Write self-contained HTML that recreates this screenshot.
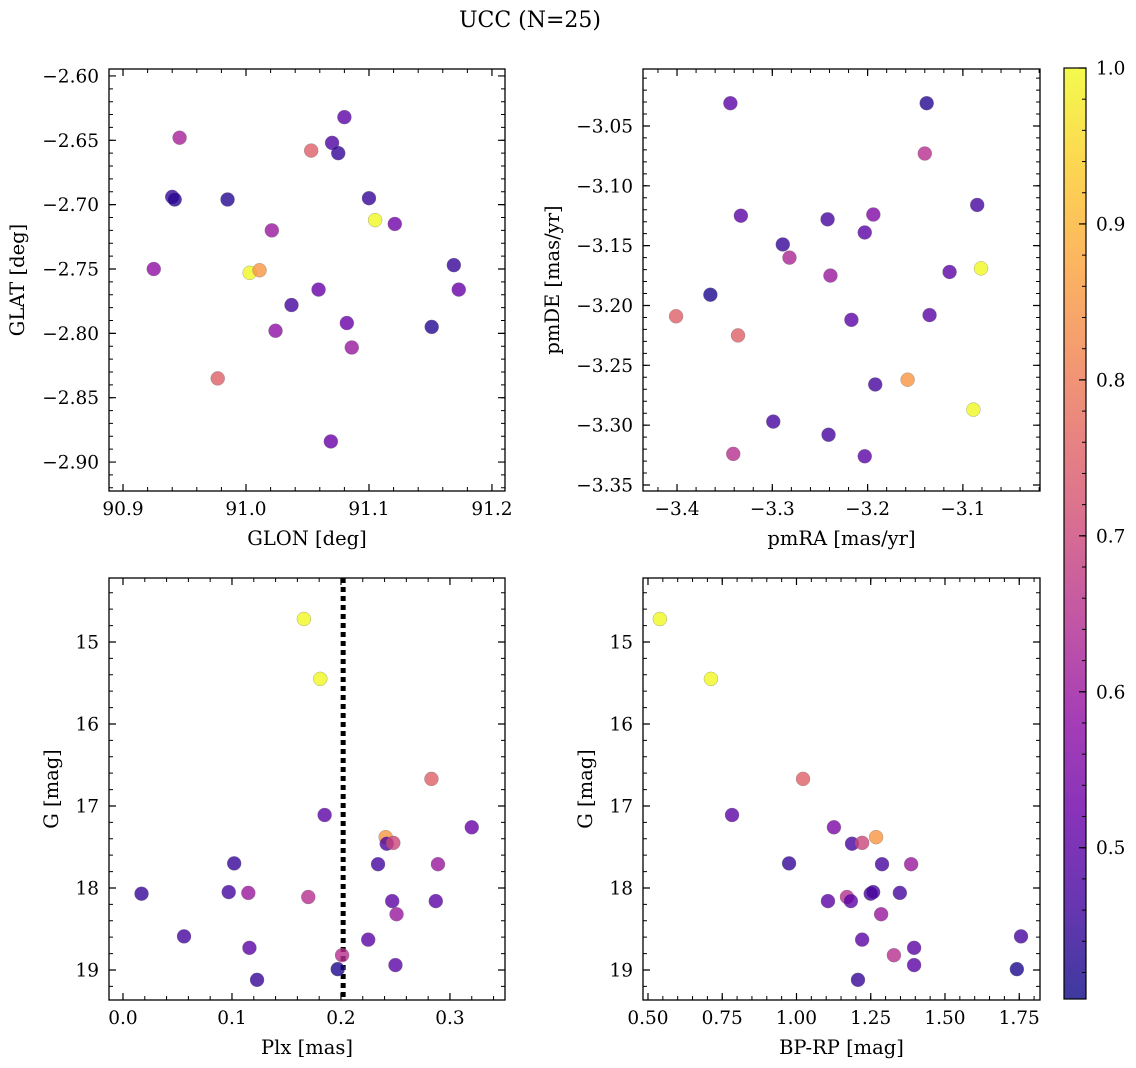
<!DOCTYPE html>
<html><head><meta charset="utf-8"><style>
html,body{margin:0;padding:0;background:#fff;}
svg{display:block;font-family:"DejaVu Serif","Liberation Serif",serif;}
</style></head><body>
<svg id="fig" width="1136" height="1068" viewBox="0 0 1136 1068">
<defs><linearGradient id="cbg" x1="0" y1="1" x2="0" y2="0"></linearGradient></defs>
<text x="530" y="27" font-size="22" text-anchor="middle">UCC (N=25)</text>
</svg>
<script>
// Panel 1: GLON vs GLAT
const glon = [90.946,90.940,90.942,90.985,90.925,91.003,91.011,91.021,91.024,90.977,91.037,91.053,91.070,91.075,91.080,91.059,91.082,91.086,91.069,91.100,91.105,91.121,91.151,91.169,91.173];
const glat = [-2.648,-2.694,-2.696,-2.696,-2.750,-2.753,-2.751,-2.720,-2.798,-2.835,-2.778,-2.658,-2.652,-2.660,-2.632,-2.766,-2.792,-2.811,-2.884,-2.695,-2.712,-2.715,-2.795,-2.747,-2.766];
const prob1 = [0.62,0.45,0.43,0.43,0.58,1.0,0.85,0.6,0.58,0.75,0.47,0.75,0.48,0.45,0.5,0.52,0.52,0.6,0.52,0.45,1.0,0.53,0.43,0.45,0.52];
// Panel 2: pmRA vs pmDE
const pmra = [-3.344,-3.138,-3.140,-3.085,-3.333,-3.242,-3.194,-3.203,-3.289,-3.282,-3.239,-3.114,-3.081,-3.365,-3.401,-3.217,-3.135,-3.336,-3.158,-3.192,-3.089,-3.299,-3.241,-3.341,-3.203];
const pmde = [-3.031,-3.031,-3.073,-3.116,-3.125,-3.128,-3.124,-3.139,-3.149,-3.160,-3.175,-3.172,-3.169,-3.191,-3.209,-3.212,-3.208,-3.225,-3.262,-3.266,-3.287,-3.297,-3.308,-3.324,-3.326];
const prob2 = [0.5,0.43,0.65,0.47,0.5,0.47,0.56,0.5,0.45,0.63,0.6,0.5,1.0,0.42,0.75,0.5,0.5,0.75,0.85,0.47,1.0,0.47,0.47,0.65,0.5];
// Panel 3 & 4: Plx, BP-RP vs G
const gmag = [14.72,15.45,16.67,17.11,17.26,17.38,17.46,17.45,17.70,17.71,17.71,18.07,18.05,18.06,18.11,18.16,18.16,18.32,18.59,18.63,18.73,18.82,18.94,18.99,19.12];
const plx = [0.166,0.181,0.283,0.185,0.320,0.241,0.242,0.248,0.102,0.234,0.289,0.017,0.097,0.115,0.170,0.247,0.287,0.251,0.056,0.225,0.116,0.201,0.250,0.197,0.123];
const prob3 = [1.0,1.0,0.75,0.5,0.52,0.85,0.48,0.7,0.45,0.47,0.6,0.45,0.47,0.6,0.65,0.5,0.5,0.6,0.47,0.5,0.5,0.65,0.5,0.42,0.45];
const bprp = [0.540,0.712,1.022,0.783,1.126,1.268,1.187,1.221,0.975,1.288,1.386,1.250,1.258,1.348,1.170,1.106,1.183,1.285,1.756,1.221,1.396,1.328,1.396,1.742,1.207];
const prob4 = [1.0,1.0,0.75,0.5,0.55,0.85,0.47,0.7,0.45,0.47,0.6,0.47,0.47,0.47,0.65,0.5,0.5,0.6,0.47,0.5,0.5,0.65,0.5,0.42,0.45];
const plxCut = [0.202];
const cbMin = 0.403, cbMax = 1.0;
const cbTicks = [0.5,0.6,0.7,0.8,0.9,1.0];

const NS="http://www.w3.org/2000/svg";
const svg=document.getElementById('fig');
const plasma=[[13,8,135],[65,4,157],[106,0,168],[143,13,164],[177,42,144],[204,71,120],[225,100,98],[242,132,75],[252,166,54],[252,206,37],[240,249,33]];
function cmap(p){let t=(p-cbMin)/(cbMax-cbMin);t=Math.max(0,Math.min(1,t));const f=t*10,i=Math.min(9,Math.floor(f)),r=f-i;const a=plasma[i],b=plasma[i+1];
return `rgb(${Math.round(a[0]+(b[0]-a[0])*r)},${Math.round(a[1]+(b[1]-a[1])*r)},${Math.round(a[2]+(b[2]-a[2])*r)})`;}
function mk(tag,attrs,parent){const e=document.createElementNS(NS,tag);for(const k in attrs)e.setAttribute(k,attrs[k]);(parent||svg).appendChild(e);return e;}

function panel(cfg){
  const g=mk('g',{});
  
  
  const {x0,x1,y0,y1}=cfg.box;
  const sx=v=>x0+(v-cfg.xd[0])/(cfg.xd[1]-cfg.xd[0])*(x1-x0);
  const sy=v=>cfg.yinv? y0+(v-cfg.yd[0])/(cfg.yd[1]-cfg.yd[0])*(y1-y0) : y1-(v-cfg.yd[0])/(cfg.yd[1]-cfg.yd[0])*(y1-y0);
  const eps=1e-9;
  function ticksFor(d,step){const out=[];let s=Math.ceil((Math.min(d[0],d[1])-eps)/step);for(let v=s*step;v<=Math.max(d[0],d[1])+eps;v+=step)out.push(+v.toFixed(6));return out;}
  const xt=ticksFor(cfg.xd,cfg.xmaj), xm=ticksFor(cfg.xd,cfg.xmin);
  const yt=ticksFor(cfg.yd,cfg.ymaj), ym=ticksFor(cfg.yd,cfg.ymin);
  xm.forEach(v=>{const x=sx(v);const l1=mk('path',{d:`M${x},${y1}v-4M${x},${y0}v4`,stroke:'#000','stroke-width':1},g);});
  ym.forEach(v=>{const y=sy(v);const l1=mk('path',{d:`M${x0},${y}h4M${x1},${y}h-4`,stroke:'#000','stroke-width':1},g);});
  xt.forEach(v=>{const x=sx(v);const l=mk('path',{d:`M${x},${y1}v-7M${x},${y0}v7`,stroke:'#000','stroke-width':1.2},g);
    const t=mk('text',{x:x,y:y1+24,'font-size':18.5,'text-anchor':'middle'},g);t.textContent=cfg.xfmt(v).replace('-','\u2212');});
  yt.forEach(v=>{const y=sy(v);const l=mk('path',{d:`M${x0},${y}h7M${x1},${y}h-7`,stroke:'#000','stroke-width':1.2},g);
    const t=mk('text',{x:x0-10,y:y+6.5,'font-size':18.5,'text-anchor':'end'},g);t.textContent=cfg.yfmt(v).replace('-','\u2212');});
  if(cfg.vline!==undefined){
    const x=sx(cfg.vline);
    const vg=mk('g',{},g);
    
    
    for(let y=y0;y<y1;y+=9){mk('rect',{x:x-2.5,y:y,width:5,height:Math.min(5,y1-y),fill:'#000'},vg);}
  }
  cfg.xs.forEach((v,i)=>{const c=mk('circle',{cx:sx(v),cy:sy(cfg.ys[i]),r:7,fill:cmap(cfg.cs[i]),'fill-opacity':0.8,stroke:'#777','stroke-width':0.5,'stroke-opacity':0.6},g);
    });
  const fr=mk('rect',{x:x0,y:y0,width:x1-x0,height:y1-y0,fill:'none',stroke:'#000','stroke-width':1.3},g);
  const xl=mk('text',{x:(x0+x1)/2,y:y1+54,'font-size':19.5,'text-anchor':'middle'},g);xl.textContent=cfg.xlabel;
  const yx=cfg.ylx, yc=(y0+y1)/2;
  const yl=mk('text',{x:yx,y:yc,'font-size':19.5,'text-anchor':'middle',transform:`rotate(-90 ${yx} ${yc})`},g);yl.textContent=cfg.ylabel;
}
const f2=v=>v.toFixed(2), f1=v=>v.toFixed(1), f0=v=>v.toFixed(0);
panel({name:'glon-glat-panel',box:{x0:109,x1:505,y0:69,y1:491},xd:[90.8886,91.2106],yd:[-2.9225,-2.5946],xmaj:0.1,xmin:0.02,ymaj:0.05,ymin:0.01,xfmt:f1,yfmt:f2,xs:glon,ys:glat,cs:prob1,xlabel:'GLON [deg]',ylabel:'GLAT [deg]',ylx:24});
panel({name:'pm-panel',box:{x0:643,x1:1040,y0:69,y1:491},xd:[-3.4357,-3.0191],yd:[-3.3550,-3.0024],xmaj:0.1,xmin:0.02,ymaj:0.05,ymin:0.01,xfmt:f1,yfmt:f2,xs:pmra,ys:pmde,cs:prob2,xlabel:'pmRA [mas/yr]',ylabel:'pmDE [mas/yr]',ylx:559});
panel({name:'plx-g-panel',box:{x0:109,x1:505,y0:578,y1:1000},xd:[-0.01284,0.3505],yd:[14.22,19.366],yinv:true,xmaj:0.1,xmin:0.02,ymaj:1,ymin:0.2,xfmt:f1,yfmt:f0,xs:plx,ys:gmag,cs:prob3,xlabel:'Plx [mas]',ylabel:'G [mag]',ylx:58,vline:plxCut[0]});
panel({name:'cmd-panel',box:{x0:643,x1:1040,y0:578,y1:1000},xd:[0.4832,1.8199],yd:[14.22,19.366],yinv:true,xmaj:0.25,xmin:0.05,ymaj:1,ymin:0.2,xfmt:f2,yfmt:f0,xs:bprp,ys:gmag,cs:prob4,xlabel:'BP-RP [mag]',ylabel:'G [mag]',ylx:592});

// colorbar
const grad=document.getElementById('cbg');
for(let i=0;i<=20;i++){const p=cbMin+(cbMax-cbMin)*i/20;mk('stop',{offset:(i/20),'stop-color':cmap(p)},grad);}
const cb=mk('g',{});


const cx0=1064,cx1=1086,cy0=68,cy1=999;
mk('rect',{x:cx0,y:cy0,width:cx1-cx0,height:cy1-cy0,fill:'url(#cbg)','fill-opacity':0.8},cb);
const cys=v=>cy1-(v-cbMin)/(cbMax-cbMin)*(cy1-cy0);
for(let v=0.42;v<=1.0001;v+=0.02){const y=cys(v);const m=mk('path',{d:`M${cx1},${y}h-4`,stroke:'#000','stroke-width':1},cb);}
cbTicks.forEach(v=>{const y=cys(v);const m=mk('path',{d:`M${cx1},${y}h-7`,stroke:'#000','stroke-width':1.2},cb);
  const t=mk('text',{x:cx1+10,y:y+6.5,'font-size':18.5},cb);t.textContent=v.toFixed(1);});
const cf=mk('rect',{x:cx0,y:cy0,width:cx1-cx0,height:cy1-cy0,fill:'none',stroke:'#000','stroke-width':1.2},cb);


</script>
</body></html>
